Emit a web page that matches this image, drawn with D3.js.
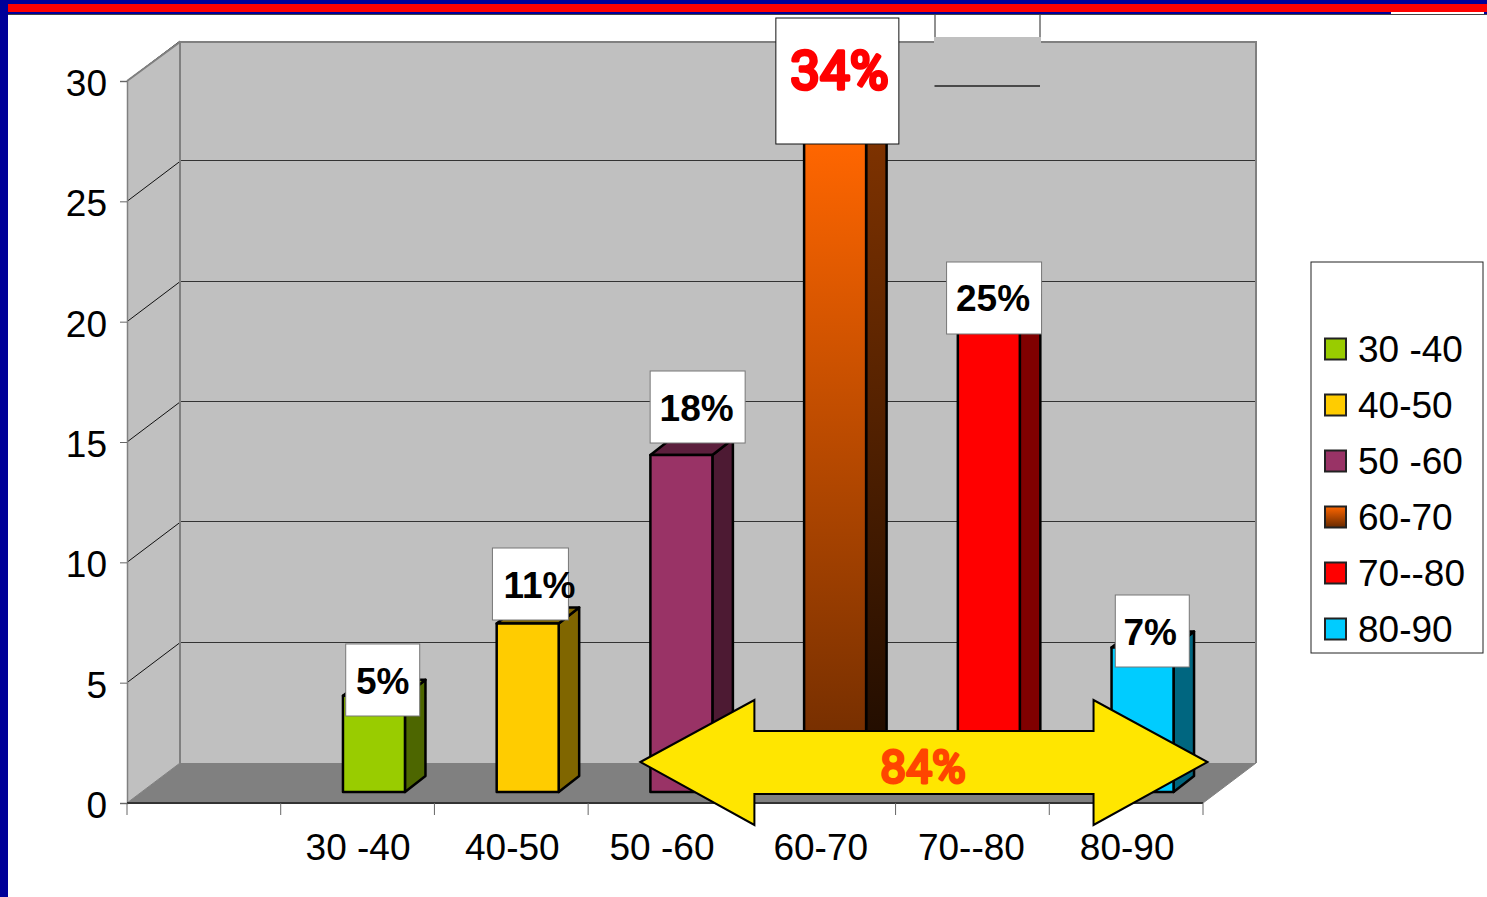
<!DOCTYPE html>
<html><head><meta charset="utf-8">
<script src="https://cdn.jsdelivr.net/npm/d3@7/dist/d3.min.js"></script>
<style>html,body{margin:0;padding:0;background:#fff;overflow:hidden}svg{display:block}
text{font-family:"Liberation Sans",Arial,sans-serif}</style></head><body>
<svg id="c" width="1487" height="897"></svg>
<script>
const categories = ["", "30 -40", "40-50", "50 -60", "60-70", "70--80", "80-90"];
const ranges = ["30 -40", "40-50", "50 -60", "60-70", "70--80", "80-90"];
const values = [4, 7, 14, 27, 20, 6];
const percents = ["5%", "11%", "18%", "34%", "25%", "7%"];
const frontColors = ["#99cc00", "#ffcc00", "#993366", "url(#gf)", "#ff0000", "#00ccff"];
const sideColors = ["#4d6600", "#806600", "#4d1a33", "url(#gs)", "#800000", "#006680"];
const topColors = ["#7a9f00", "#806600", "#5c1f3d", "#803300", "#b30000", "#0099bf"];
const yTicks = [0, 5, 10, 15, 20, 25, 30];
const spanLabel = "84%";

// label box layout, relative to the left edge of each bar's band: [dx, top, width, height, text dx, text baseline]
const boxes = [[65, 644, 74, 72, 0, 694], [58, 548, 76, 72, 9, 598], [62, 371, 95, 72, -1, 421], [34, 18, 123, 126, 2, 89], [51, 262, 95, 72, -1, 311], [66, 595, 74, 72, -2, 645]];
// small horizontal nudges of the category labels
const xLabelNudge = [0, 0.5, 1, -3, 2, -1, 1];

const svg = d3.select("#c");
const x = d3.scaleBand().domain(categories).range([127, 1203]);
const y = d3.scaleLinear().domain([0, 30]).range([803, 81]);
const wallDx = 53, wallDy = -40, barShiftY = -11, sideDx = 20.5, sideDy = -16, barW = 62;
const L = x.range()[0], R = x.range()[1];

const defs = svg.append("defs");
function grad(id, a, b) {
  const g = defs.append("linearGradient").attr("id", id).attr("x1", 0).attr("y1", 0).attr("x2", 0).attr("y2", 1);
  g.append("stop").attr("offset", 0).attr("stop-color", a);
  g.append("stop").attr("offset", 1).attr("stop-color", b);
}
grad("gf", "#ff6600", "#6a2a00");
grad("gs", "#803300", "#1a0a00");
grad("gl", "#ff6600", "#662900");

// page frame
svg.append("rect").attr("x", 0).attr("y", 0).attr("width", 1487).attr("height", 14).attr("fill", "#000099");
svg.append("rect").attr("x", 0).attr("y", 4).attr("width", 1487).attr("height", 8).attr("fill", "#ff0000");
svg.append("rect").attr("x", 0).attr("y", 14).attr("width", 1487).attr("height", 1).attr("fill", "#444");
svg.append("rect").attr("x", 0).attr("y", 0).attr("width", 8).attr("height", 897).attr("fill", "#000099");
svg.append("rect").attr("x", 1391).attr("y", 12).attr("width", 93).attr("height", 2).attr("fill", "#fff");

// walls and floor
const yTop = y(30), base = y(0);
svg.append("path").attr("d", `M${L},${base}V${yTop}L${L+wallDx},${yTop+wallDy}V${base+wallDy}Z`).attr("fill", "#c0c0c0");
svg.append("rect").attr("x", L+wallDx).attr("y", yTop+wallDy+1).attr("width", R-L).attr("height", base-yTop-1).attr("fill", "#c0c0c0");
svg.append("path").attr("d", `M${L},${base}L${L+wallDx},${base+wallDy}H${R+wallDx}L${R},${base}Z`).attr("fill", "#808080");

// gridlines
const grid = svg.append("g");
yTicks.filter(v => v > 0).forEach(v => {
  grid.append("line").attr("x1", L).attr("y1", y(v)).attr("x2", L+wallDx).attr("y2", y(v)+wallDy).attr("stroke", "#111").attr("stroke-width", 1);
  if (v < 30) grid.append("line").attr("x1", L+wallDx).attr("y1", y(v)+wallDy-0.5).attr("x2", R+wallDx).attr("y2", y(v)+wallDy-0.5).attr("stroke", "#333").attr("stroke-width", 1).attr("shape-rendering", "crispEdges");
});
svg.append("path").attr("d", `M${L},${yTop}L${L+wallDx},${yTop+wallDy+1}H${R+wallDx}V${base+wallDy}M${L+wallDx},${yTop+wallDy}V${base+wallDy}`)
  .attr("fill", "none").attr("stroke", "#808080").attr("stroke-width", 2);
svg.append("path").attr("d", `M${L},${base}L${L+wallDx},${base+wallDy}`).attr("fill", "none").attr("stroke", "#808080");

// axes
const yAxis = svg.append("g").attr("transform", `translate(${L},0)`)
  .call(d3.axisLeft(y).tickValues(yTicks).tickSize(7).tickPadding(13).tickFormat(d3.format("d")));
yAxis.select(".domain").attr("stroke", "#808080").attr("stroke-width", 1.5);
yAxis.selectAll("line").attr("stroke", "#666");
yAxis.selectAll("text").attr("font-size", 37).attr("fill", "#000").attr("dy", "0.39em").style("font-family", '"Liberation Sans"');

const xAxis = svg.append("g").attr("transform", `translate(0,${base})`)
  .call(d3.axisBottom(x).tickSize(0).tickPadding(31));
xAxis.select(".domain").attr("stroke", "#333").attr("stroke-width", 2).attr("d", `M${L},0H${R}`);
xAxis.selectAll("text").attr("font-size", 37).attr("fill", "#000").attr("dx", (d, i) => xLabelNudge[i]).style("font-family", '"Liberation Sans"');
svg.append("path").attr("d", `M${R},${base}L${R+wallDx},${base+wallDy}`).attr("stroke", "#808080").attr("fill", "none");
const edges = categories.map(c => x(c)).concat([R]);
svg.append("g").selectAll("line").data(edges).join("line")
  .attr("x1", d => d).attr("x2", d => d).attr("y1", base).attr("y2", base+12).attr("stroke", "#666").attr("stroke-width", 1);

// bars
const bars = svg.append("g").selectAll("g").data(ranges).join("g")
  .attr("stroke", "#000").attr("stroke-width", 2.5).attr("stroke-linejoin", "round");
const bx = d => x(d) + x.bandwidth()*0.405;
const by = i => y(values[i]) + barShiftY;
const b0 = base + barShiftY;
bars.append("path").attr("fill", (d, i) => sideColors[i])
  .attr("d", (d, i) => `M${bx(d)+barW},${b0}V${by(i)}l${sideDx},${sideDy}V${b0+sideDy}Z`);
bars.append("path").attr("fill", (d, i) => topColors[i])
  .attr("d", (d, i) => `M${bx(d)},${by(i)}l${sideDx},${sideDy}h${barW}l${-sideDx},${-sideDy}Z`);
bars.append("rect").attr("fill", (d, i) => frontColors[i])
  .attr("x", bx).attr("y", (d, i) => by(i)).attr("width", barW).attr("height", (d, i) => b0 - by(i));

// leftover gray patch at top of chart
svg.append("rect").attr("x", 935).attr("y", 15).attr("width", 105).attr("height", 22).attr("fill", "#fff");
svg.append("path").attr("d", "M935,15V37M1040,15V37").attr("stroke", "#222").attr("stroke-width", 1);
svg.append("rect").attr("x", 934).attr("y", 37).attr("width", 107).attr("height", 49).attr("fill", "#c0c0c0");
svg.append("path").attr("d", "M934.5,86H1040").attr("stroke", "#222").attr("stroke-width", 1.5);

// value labels
const labels = svg.append("g").selectAll("g").data(ranges).join("g");
labels.append("rect")
  .attr("x", (d, i) => x(d) + boxes[i][0]).attr("y", (d, i) => boxes[i][1])
  .attr("width", (d, i) => boxes[i][2]).attr("height", (d, i) => boxes[i][3])
  .attr("fill", "#fff").attr("stroke", (d, i) => i === 3 ? "#111" : "#777").attr("stroke-width", 1);
labels.append("text")
  .attr("x", (d, i) => x(d) + boxes[i][0] + boxes[i][2]/2 + boxes[i][4])
  .attr("y", (d, i) => boxes[i][5])
  .attr("text-anchor", "middle")
  .style("font-family", (d, i) => i === 3 ? "Roboto" : '"Liberation Sans"')
  .attr("font-weight", (d, i) => i === 3 ? 400 : 700)
  .attr("font-size", (d, i) => i === 3 ? 53 : 37)
  .attr("fill", (d, i) => i === 3 ? "#ff0000" : "#000")
  .attr("stroke", (d, i) => i === 3 ? "#ff0000" : "none")
  .attr("stroke-width", (d, i) => i === 3 ? 3.5 : 0)
  .attr("stroke-linejoin", "round")
  .text((d, i) => percents[i]);

// span arrow from the 50 -60 bar to the 80-90 bar
const ax0 = bx("50 -60") - 10, ax1 = bx("80-90") + 96, ay = base + wallDy - 1;
const headW = 114, headH = 62, shaftUp = 31, shaftDn = 32;
svg.append("path").attr("fill", "#ffe600").attr("stroke", "#000").attr("stroke-width", 2)
  .attr("d", `M${ax0},${ay}L${ax0+headW},${ay-headH}V${ay-shaftUp}H${ax1-headW}V${ay-headH}L${ax1},${ay}L${ax1-headW},${ay+headH+1}V${ay+shaftDn}H${ax0+headW}V${ay+headH+1}Z`);
svg.append("text").attr("x", 923).attr("y", 783).attr("text-anchor", "middle")
  .style("font-family", "Roboto").attr("font-weight", 400).attr("font-size", 46)
  .attr("fill", "#ff4500").attr("stroke", "#ff4500").attr("stroke-width", 3).attr("stroke-linejoin", "round")
  .text(spanLabel);

// legend
const legend = svg.append("g");
legend.append("rect").attr("x", 1311).attr("y", 262).attr("width", 172).attr("height", 391).attr("fill", "#fff").attr("stroke", "#222").attr("stroke-width", 1);
const legendY = d3.scalePoint().domain(ranges).range([349, 629]);
const legendFill = frontColors.map(c => c === "url(#gf)" ? "url(#gl)" : c);
const items = legend.selectAll("g").data(ranges).join("g").attr("transform", d => `translate(0,${legendY(d)})`);
items.append("rect").attr("x", 1325).attr("y", -10.5).attr("width", 21).attr("height", 21)
  .attr("fill", (d, i) => legendFill[i]).attr("stroke", "#222").attr("stroke-width", 2);
items.append("text").attr("x", 1358).attr("y", 13).attr("font-size", 37).attr("fill", "#000").text(d => d);
</script></body></html>
